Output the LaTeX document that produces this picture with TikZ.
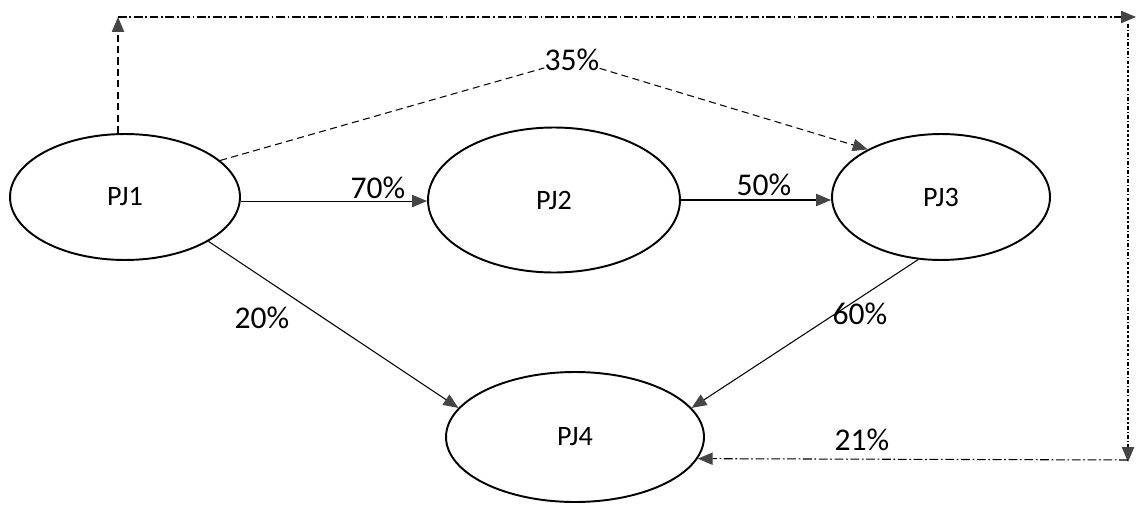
\documentclass[tikz,border=0pt]{standalone}
\usepackage{fontspec}
\setmainfont{Carlito}
\usetikzlibrary{shapes.geometric,arrows.meta}
\definecolor{tipgray}{rgb}{0.27,0.27,0.27}

\begin{document}
\begin{tikzpicture}[x=0.02cm,y=-0.02cm,
        pj/.style={draw,ellipse,line width=1.1pt,font=\fontsize{16}{19}\selectfont},
        arr/.style={-{Triangle[length=8.5pt,width=7pt,color=tipgray]},line width=0.6pt},
        pct/.style={font=\fontsize{18}{22}\selectfont,inner sep=0pt}]
        \useasboundingbox (0,0) rectangle (1136,507);

        % Projects
        \node[pj,minimum width=4.6cm,minimum height=2.52cm] (PJ1) at (125,197) {PJ1};
        \node[pj,minimum width=5.04cm,minimum height=2.9cm] (PJ2) at (554,200) {PJ2};
        \node[pj,minimum width=4.36cm,minimum height=2.52cm] (PJ3) at (941,197) {PJ3};
        \node[pj,minimum width=5.16cm,minimum height=2.6cm] (PJ4) at (575,437) {PJ4};

        % Corners of the loop back
        \coordinate (c1) at (118,17);
        \coordinate (c2) at (1136,17);
        \coordinate (c3) at (1128,24);
        \coordinate (c4) at (1128,462);
        \coordinate (c5) at (1128,460);

        % Solid links
        \draw[arr] (PJ1.-2) -- (PJ1.-2 -| PJ2.west);
        \draw[arr] (PJ2.east) -- (PJ2.east -| PJ3.west);
        \draw[arr] (PJ1.-28) -- (PJ4.166);
        \draw[arr] (PJ3.250) -- (PJ4.14);

        % Shares
        \node[pct] (p70) at (378,188) {70\%};
        \node[pct] (p50) at (764,185) {50\%};
        \node[pct] (p20) at (262,318) {20\%};
        \node[pct] (p60) at (860,314) {60\%};
        \node[pct] (p21) at (862,440) {21\%};
        \node[pct] (p35) at (572,60) {35\%};

        % Dashed link over PJ2
        \draw[line width=0.6pt,dash pattern=on 4pt off 2.5pt] (PJ1.21) -- (p35);
        \draw[arr,dash pattern=on 4pt off 2.5pt] (p35) -- (PJ3.147);

        % Loop back to PJ4
        \draw[arr,dash pattern=on 4pt off 2.5pt] (PJ1.north -| c1) -- (c1);
        \draw[arr,dash pattern=on 5pt off 1.5pt on 1pt off 1.5pt] (c1) -- (c2);
        \draw[arr,dash pattern=on 2pt off 1.2pt on 0.8pt off 1.2pt] (c3) -- (c4);
        \draw[arr,dash pattern=on 5pt off 1.5pt on 1pt off 1.5pt] (c5) -- (PJ4.-10);

    \end{tikzpicture}
\end{document}
